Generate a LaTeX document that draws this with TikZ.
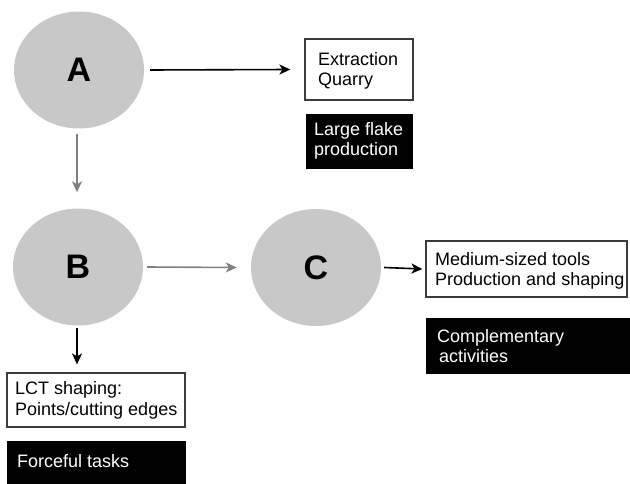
\documentclass[tikz,border=0pt]{standalone}
\usepackage{fontspec}
\setmainfont{Liberation Sans}
\usetikzlibrary{arrows.meta,shapes.geometric}
\definecolor{circfill}{RGB}{200,200,200}
\definecolor{grayarrow}{RGB}{128,128,128}
\definecolor{boxline}{RGB}{60,60,60}
\begin{document}
\begin{tikzpicture}[x=1pt,y=-1pt,
  circ/.style={ellipse, fill=circfill, minimum width=130pt, minimum height=117pt, inner sep=0pt, font=\fontsize{34}{34}\selectfont\bfseries},
  wbox/.style={draw=boxline, line width=1.2pt, fill=white, inner sep=0pt},
  bbox/.style={fill=black, inner sep=0pt},
  wtext/.style={anchor=west, align=left, inner sep=0pt, font=\fontsize{18}{20.5}\selectfont},
  btext/.style={wtext, text=white},
  blarrow/.style={draw=black, line width=1.6pt, -{Stealth[length=11pt,width=10pt,inset=3pt]}},
  grarrow/.style={draw=grayarrow, line width=1.6pt, -{Stealth[length=11pt,width=10pt,inset=3pt]}}
]
\useasboundingbox (0,0) rectangle (630,484);
% circles
\node[circ] (A) at (79,70) {A};
\node[circ] (B) at (78,267) {B};
\node[circ] (C) at (316,267.5) {C};
% boxes
\node[wbox, minimum width=108pt, minimum height=61pt] (ext) at (359,69.5) {};
\node[wtext] (extt) at (318,71) {Extraction\\Quarry};
\node[bbox, minimum width=107pt, minimum height=55pt] (lfp) at (359.5,141.5) {};
\node[btext] (lfpt) at (314,141) {Large flake\\production};
\node[wbox, minimum width=201pt, minimum height=56pt] (med) at (526.5,269) {};
\node[wtext] (medt) at (435,271) {Medium-sized tools\\Production and shaping};
\node[bbox, minimum width=206pt, minimum height=56pt] (comp) at (529,346) {};
\node[btext] (compt) at (437,346) {Complementary\\\hspace*{2pt}activities};
\node[wbox, minimum width=178pt, minimum height=54pt] (lct) at (96,400) {};
\node[wtext] (lctt) at (15,400.5) {LCT shaping:\\Points/cutting edges};
\node[bbox, minimum width=179pt, minimum height=50pt] (force) at (96.5,466) {};
\node[btext] (forcet) at (17,461) {Forceful tasks};
% connectors
\draw[blarrow] ([xshift=6pt]A.east) -- ([xshift=-14pt]ext.west);
\draw[grarrow] ([xshift=-2pt,yshift=-5pt]A.south) -- ([xshift=-1pt,yshift=16pt]B.north);
\draw[grarrow] ([xshift=4pt]B.east) -- ([xshift=-14pt]C.west);
\draw[blarrow] ([xshift=3pt]C.east) -- ([xshift=-3pt]med.west);
\draw[blarrow] ([xshift=-1pt,yshift=-2pt]B.south) -- ([xshift=-1pt,yshift=8pt]B.south |- lct.north);
\end{tikzpicture}
\end{document}
